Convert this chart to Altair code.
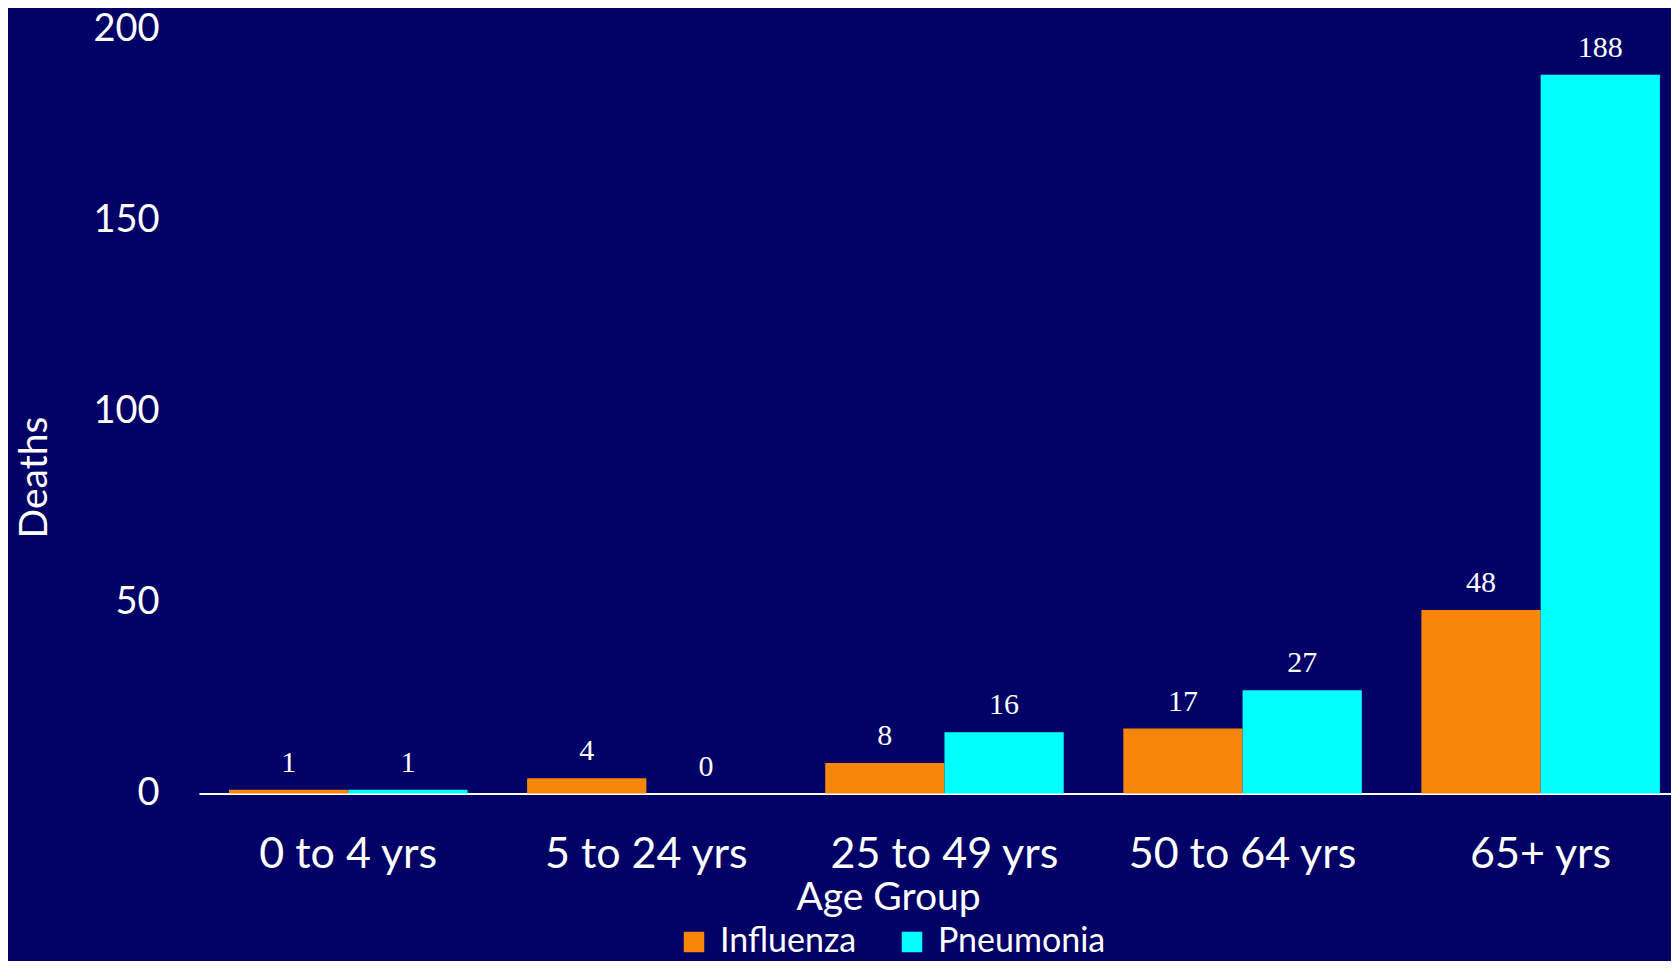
import altair as alt
import pandas as pd

ages = ["0 to 4 yrs", "5 to 24 yrs", "25 to 49 yrs", "50 to 64 yrs", "65+ yrs"]
series = ["Influenza", "Pneumonia"]
influenza = [1, 4, 8, 17, 48]
pneumonia = [1, 0, 16, 27, 188]
y_ticks = [0, 50, 100, 150, 200]
colors = ["#F7860A", "#00FFFF"]

rows = []
for a, i, p in zip(ages, influenza, pneumonia):
    rows.append({"age": a, "series": "Influenza", "deaths": i})
    rows.append({"age": a, "series": "Pneumonia", "deaths": p})
df = pd.DataFrame(rows)

BG = "#000066"
SANS = "Lato"

base = alt.Chart(df).encode(
    x=alt.X(
        "age:N",
        sort=ages,
        scale=alt.Scale(paddingInner=0.2, paddingOuter=0.069, align=0.73),
        axis=alt.Axis(
            labelAngle=0,
            labelFont=SANS,
            labelFontSize=43,
            labelColor="white",
            labelPadding=40,
            labelLimit=500,
            ticks=False,
            domainColor="white",
            domainWidth=2,
            grid=False,
            title="Age Group",
            titleFont=SANS,
            titleFontSize=39,
            titleFontWeight="normal",
            titleColor="white",
            titleX=689,
            titleY=85,
            titleBaseline="top",
            titleAlign="center",
        ),
    ),
    xOffset=alt.XOffset("series:N", sort=series),
)

bars = base.mark_bar().encode(
    y=alt.Y(
        "deaths:Q",
        scale=alt.Scale(domain=[0, 200]),
        axis=alt.Axis(
            values=y_ticks,
            labelFont=SANS,
            labelFontSize=38,
            labelColor="white",
            labelPadding=40,
            ticks=False,
            domain=False,
            grid=False,
            title="Deaths",
            titleFont=SANS,
            titleFontSize=39,
            titleFontWeight="normal",
            titleColor="white",
            titleAngle=-90,
            titleX=-153,
            titleY=448,
            titleAlign="center",
            titleBaseline="alphabetic",
        ),
    ),
    color=alt.Color(
        "series:N",
        sort=series,
        scale=alt.Scale(domain=series, range=colors),
        legend=alt.Legend(
            title=None,
            orient="none",
            direction="horizontal",
            legendX=478,
            legendY=896,
            symbolType="square",
            symbolSize=420,
            symbolStrokeWidth=0,
            symbolOpacity=1,
            labelFont=SANS,
            labelFontSize=34,
            labelColor="white",
            labelOffset=9,
            labelLimit=500,
            columnPadding=38,
        ),
    ),
)

labels = base.mark_text(
    dy=-18,
    baseline="alphabetic",
    align="center",
    font="Liberation Serif",
    fontSize=30,
    color="white",
).encode(
    y=alt.Y("deaths:Q"),
    text=alt.Text("deaths:Q"),
)

chart = (
    alt.layer(bars, labels)
    .properties(
        width=1472,
        height=764.5,
        autosize=alt.AutoSizeParams(type="none"),
        padding={"left": 191, "top": 21, "right": 0, "bottom": 167},
        background=BG,
    )
    .configure_view(strokeWidth=0)
)

chart.save("out.html", embed_options={"renderer": "svg", "actions": False})
